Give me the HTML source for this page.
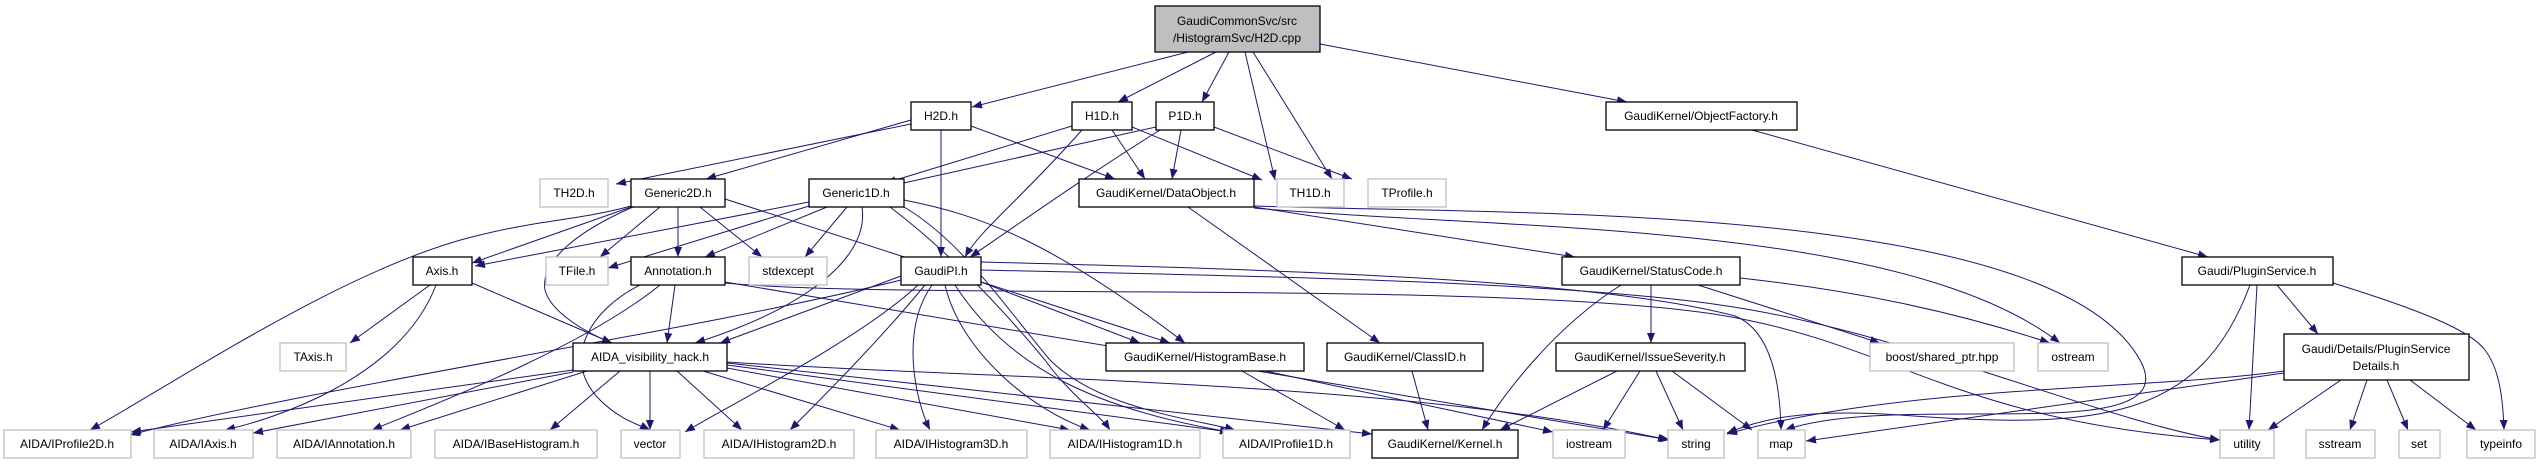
<!DOCTYPE html>
<html><head><meta charset="utf-8"><style>
html,body{margin:0;padding:0;background:#fff}
svg{display:block}
text{font-family:"Liberation Sans",sans-serif;font-size:12px;text-anchor:middle;fill:#000}
.b{fill:#fff;stroke:#000;stroke-width:1.3}
.g{fill:#fff;stroke:#bfbfbf;stroke-width:1.3}
.e path{fill:none;stroke:#191970;stroke-width:1}
</style></head><body>
<svg width="2537" height="464" viewBox="0 0 2537 464" xmlns="http://www.w3.org/2000/svg">
<defs><marker id="a" viewBox="0 0 10 8" refX="10" refY="4" markerWidth="10" markerHeight="8" markerUnits="userSpaceOnUse" orient="auto"><path d="M0,0 L10,4 L0,8 z" fill="#191970"/></marker></defs>
<g class="e" marker-end="url(#a)">
<!-- top -->
<path d="M1188,52 L972,107" marker-end="url(#a)"/>
<path d="M1216,52 L1118,102" marker-end="url(#a)"/>
<path d="M1229,52 L1202,102" marker-end="url(#a)"/>
<path d="M1245,52 L1275,180" marker-end="url(#a)"/>
<path d="M1253,52 L1332,179" marker-end="url(#a)"/>
<path d="M1320,44 L1627,102" marker-end="url(#a)"/>
<!-- H2D -->
<path d="M911,120 L706,179" marker-end="url(#a)"/>
<path d="M911,124 L616,184" marker-end="url(#a)"/>
<path d="M941,130 L941,257" marker-end="url(#a)"/>
<path d="M971,126 L1115,179" marker-end="url(#a)"/>
<!-- H1D -->
<path d="M1072,126 L886,183" marker-end="url(#a)"/>
<path d="M1082,130 C1020,200 980,230 965,257" marker-end="url(#a)"/>
<path d="M1112,130 L1145,179" marker-end="url(#a)"/>
<path d="M1132,127 L1262,180" marker-end="url(#a)"/>
<!-- P1D -->
<path d="M1156,127 L890,186" marker-end="url(#a)"/>
<path d="M1160,130 C1080,180 1010,230 970,257" marker-end="url(#a)"/>
<path d="M1181,130 L1172,179" marker-end="url(#a)"/>
<path d="M1214,127 L1352,179" marker-end="url(#a)"/>
<!-- ObjectFactory -->
<path d="M1752,130 L2208,257" marker-end="url(#a)"/>
<!-- Generic2D -->
<path d="M631,207 L472,263" marker-end="url(#a)"/>
<path d="M660,207 L600,257" marker-end="url(#a)"/>
<path d="M678,207 L678,257" marker-end="url(#a)"/>
<path d="M700,207 L762,257" marker-end="url(#a)"/>
<path d="M633,207 C580,230 540,260 545,290 C550,310 580,330 612,343" marker-end="url(#a)"/>
<path d="M631,206 C580,220 540,220 480,235 C350,265 180,380 90,430" marker-end="url(#a)"/>
<path d="M725,199 L1170,343" marker-end="url(#a)"/>
<!-- Generic1D -->
<path d="M809,202 L475,266" marker-end="url(#a)"/>
<path d="M809,206 L608,268" marker-end="url(#a)"/>
<path d="M827,207 L705,257" marker-end="url(#a)"/>
<path d="M847,207 L805,257" marker-end="url(#a)"/>
<path d="M862,207 C870,260 800,310 695,343" marker-end="url(#a)"/>
<path d="M904,200 C980,215 1050,240 1185,343" marker-end="url(#a)"/>
<path d="M904,207 C960,240 1000,300 1050,360 C1100,410 1200,420 1235,430" marker-end="url(#a)"/>
<path d="M890,207 C960,260 1020,330 1045,360 C1070,395 1100,415 1110,430" marker-end="url(#a)"/>
<!-- DataObject -->
<path d="M1254,207 L1575,257" marker-end="url(#a)"/>
<path d="M1188,207 L1380,343" marker-end="url(#a)"/>
<path d="M1254,208 C1500,230 1900,220 2060,343" marker-end="url(#a)"/>
<path d="M1254,206 C1500,215 2050,200 2140,360 C2190,450 1900,390 1785,430" marker-end="url(#a)"/>
<!-- GaudiPI -->
<path d="M981,270 C1200,275 1550,280 1720,305 C1900,330 2100,420 2220,440" marker-end="url(#a)"/>
<path d="M981,282 L1140,343" marker-end="url(#a)"/>
<path d="M901,276 L720,343" marker-end="url(#a)"/>
<path d="M901,280 C700,330 300,390 130,435" marker-end="url(#a)"/>
<path d="M918,285 C860,340 720,410 685,432" marker-end="url(#a)"/>
<path d="M925,285 C880,340 820,400 790,430" marker-end="url(#a)"/>
<path d="M932,285 C900,330 915,400 930,430" marker-end="url(#a)"/>
<path d="M945,285 C960,350 1030,410 1090,430" marker-end="url(#a)"/>
<path d="M955,285 C1010,370 1100,410 1230,432" marker-end="url(#a)"/>
<path d="M981,262 C1300,270 1600,280 1735,316 C1770,330 1780,380 1781,430" marker-end="url(#a)"/>
<!-- Axis -->
<path d="M430,285 L350,343" marker-end="url(#a)"/>
<path d="M472,283 L612,343" marker-end="url(#a)"/>
<path d="M436,285 C400,380 270,420 225,430" marker-end="url(#a)"/>
<!-- Annotation -->
<path d="M675,285 L667,343" marker-end="url(#a)"/>
<path d="M660,285 C580,350 420,410 372,430" marker-end="url(#a)"/>
<path d="M640,285 C590,310 560,360 600,400 C620,420 640,425 650,430" marker-end="url(#a)"/>
<path d="M725,282 L1670,440" marker-end="url(#a)"/>
<path d="M725,283 C900,300 1500,280 1720,315 C1900,345 1950,420 2220,440" marker-end="url(#a)"/>
<!-- AIDA_vis -->
<path d="M573,370 L131,432" marker-end="url(#a)"/>
<path d="M573,372 L253,433" marker-end="url(#a)"/>
<path d="M587,371 L400,430" marker-end="url(#a)"/>
<path d="M620,371 L550,430" marker-end="url(#a)"/>
<path d="M650,371 L650,430" marker-end="url(#a)"/>
<path d="M677,371 L742,430" marker-end="url(#a)"/>
<path d="M703,371 L900,430" marker-end="url(#a)"/>
<path d="M727,368 L1070,430" marker-end="url(#a)"/>
<path d="M727,365 L1230,432" marker-end="url(#a)"/>
<path d="M727,363 L1372,434" marker-end="url(#a)"/>
<path d="M727,362 C1000,380 1400,380 1668,440" marker-end="url(#a)"/>
<!-- StatusCode -->
<path d="M1621,285 C1550,330 1500,400 1482,430" marker-end="url(#a)"/>
<path d="M1651,285 L1651,343" marker-end="url(#a)"/>
<path d="M1698,285 L1880,343" marker-end="url(#a)"/>
<path d="M1740,278 C1850,290 1950,310 2050,343" marker-end="url(#a)"/>
<!-- HistogramBase -->
<path d="M1242,371 L1345,430" marker-end="url(#a)"/>
<path d="M1265,371 L1553,432" marker-end="url(#a)"/>
<!-- ClassID -->
<path d="M1412,371 L1428,430" marker-end="url(#a)"/>
<!-- IssueSeverity -->
<path d="M1617,371 L1500,430" marker-end="url(#a)"/>
<path d="M1640,371 L1603,430" marker-end="url(#a)"/>
<path d="M1656,371 L1683,430" marker-end="url(#a)"/>
<path d="M1672,371 L1752,430" marker-end="url(#a)"/>
<!-- PluginService -->
<path d="M2250,285 C2200,420 2100,430 1900,415 C1800,408 1760,420 1727,433" marker-end="url(#a)"/>
<path d="M2257,285 L2249,430" marker-end="url(#a)"/>
<path d="M2277,285 L2318,334" marker-end="url(#a)"/>
<path d="M2333,283 C2420,310 2470,330 2485,350 C2500,370 2503,400 2504,430" marker-end="url(#a)"/>
<!-- Details -->
<path d="M2284,371 C2150,390 1900,385 1727,434" marker-end="url(#a)"/>
<path d="M2284,373 L1806,441" marker-end="url(#a)"/>
<path d="M2341,380 L2268,430" marker-end="url(#a)"/>
<path d="M2367,380 L2350,430" marker-end="url(#a)"/>
<path d="M2387,380 L2408,430" marker-end="url(#a)"/>
<path d="M2410,380 L2476,430" marker-end="url(#a)"/>
</g>
<g>
<rect x="1155" y="6" width="165" height="46" fill="#bfbfbf" stroke="#000" stroke-width="1.3"/>
<text x="1237" y="25">GaudiCommonSvc/src</text><text x="1237" y="42">/HistogramSvc/H2D.cpp</text>

<rect class="b" x="911" y="102" width="60" height="28"/><text x="941" y="120">H2D.h</text>
<rect class="b" x="1072" y="102" width="60" height="28"/><text x="1102" y="120">H1D.h</text>
<rect class="b" x="1156" y="102" width="58" height="28"/><text x="1185" y="120">P1D.h</text>
<rect class="b" x="1606" y="102" width="191" height="28"/><text x="1701" y="120">GaudiKernel/ObjectFactory.h</text>

<rect class="g" x="540" y="179" width="68" height="28"/><text x="574" y="197">TH2D.h</text>
<rect class="b" x="631" y="179" width="94" height="28"/><text x="678" y="197">Generic2D.h</text>
<rect class="b" x="809" y="179" width="95" height="28"/><text x="856" y="197">Generic1D.h</text>
<rect class="b" x="1079" y="179" width="175" height="28"/><text x="1166" y="197">GaudiKernel/DataObject.h</text>
<rect class="g" x="1277" y="179" width="67" height="28"/><text x="1310" y="197">TH1D.h</text>
<rect class="g" x="1368" y="179" width="78" height="28"/><text x="1407" y="197">TProfile.h</text>

<rect class="b" x="413" y="257" width="59" height="28"/><text x="442" y="275">Axis.h</text>
<rect class="g" x="546" y="257" width="62" height="28"/><text x="577" y="275">TFile.h</text>
<rect class="b" x="631" y="257" width="94" height="28"/><text x="678" y="275">Annotation.h</text>
<rect class="g" x="749" y="257" width="78" height="28"/><text x="788" y="275">stdexcept</text>
<rect class="b" x="901" y="257" width="80" height="28"/><text x="941" y="275">GaudiPI.h</text>
<rect class="b" x="1562" y="257" width="178" height="28"/><text x="1651" y="275">GaudiKernel/StatusCode.h</text>
<rect class="b" x="2182" y="257" width="151" height="28"/><text x="2257" y="275">Gaudi/PluginService.h</text>

<rect class="g" x="280" y="343" width="66" height="28"/><text x="313" y="361">TAxis.h</text>
<rect class="b" x="573" y="343" width="154" height="28"/><text x="650" y="361">AIDA_visibility_hack.h</text>
<rect class="b" x="1106" y="343" width="198" height="28"/><text x="1205" y="361">GaudiKernel/HistogramBase.h</text>
<rect class="b" x="1327" y="343" width="156" height="28"/><text x="1405" y="361">GaudiKernel/ClassID.h</text>
<rect class="b" x="1556" y="343" width="189" height="28"/><text x="1650" y="361">GaudiKernel/IssueSeverity.h</text>
<rect class="g" x="1870" y="343" width="144" height="28"/><text x="1942" y="361">boost/shared_ptr.hpp</text>
<rect class="g" x="2038" y="343" width="70" height="28"/><text x="2073" y="361">ostream</text>
<rect class="b" x="2284" y="334" width="185" height="46"/><text x="2376" y="353">Gaudi/Details/PluginService</text><text x="2376" y="370">Details.h</text>

<rect class="g" x="4" y="430" width="127" height="28"/><text x="67" y="448">AIDA/IProfile2D.h</text>
<rect class="g" x="154" y="430" width="99" height="28"/><text x="203" y="448">AIDA/IAxis.h</text>
<rect class="g" x="277" y="430" width="134" height="28"/><text x="344" y="448">AIDA/IAnnotation.h</text>
<rect class="g" x="435" y="430" width="162" height="28"/><text x="516" y="448">AIDA/IBaseHistogram.h</text>
<rect class="g" x="621" y="430" width="59" height="28"/><text x="650" y="448">vector</text>
<rect class="g" x="704" y="430" width="150" height="28"/><text x="779" y="448">AIDA/IHistogram2D.h</text>
<rect class="g" x="876" y="430" width="151" height="28"/><text x="951" y="448">AIDA/IHistogram3D.h</text>
<rect class="g" x="1050" y="430" width="150" height="28"/><text x="1125" y="448">AIDA/IHistogram1D.h</text>
<rect class="g" x="1223" y="430" width="127" height="28"/><text x="1286" y="448">AIDA/IProfile1D.h</text>
<rect class="b" x="1372" y="430" width="146" height="28"/><text x="1445" y="448">GaudiKernel/Kernel.h</text>
<rect class="g" x="1553" y="430" width="72" height="28"/><text x="1589" y="448">iostream</text>
<rect class="g" x="1668" y="430" width="56" height="28"/><text x="1696" y="448">string</text>
<rect class="g" x="1758" y="430" width="47" height="28"/><text x="1781" y="448">map</text>
<rect class="g" x="2220" y="430" width="54" height="28"/><text x="2247" y="448">utility</text>
<rect class="g" x="2306" y="430" width="69" height="28"/><text x="2340" y="448">sstream</text>
<rect class="g" x="2399" y="430" width="41" height="28"/><text x="2419" y="448">set</text>
<rect class="g" x="2467" y="430" width="68" height="28"/><text x="2501" y="448">typeinfo</text>
</g>
</svg>
</body></html>
